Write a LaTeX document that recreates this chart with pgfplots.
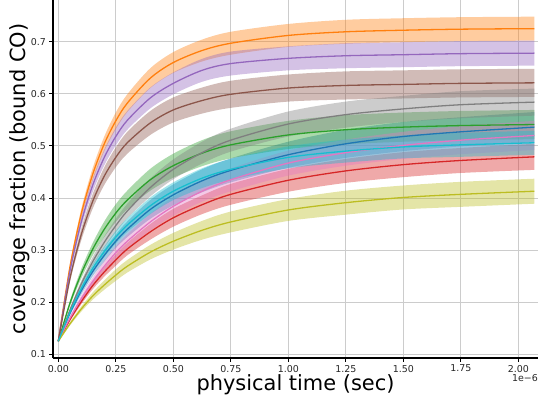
\documentclass[border=0pt]{standalone}
\usepackage{fontspec}
\setmainfont{DejaVu Sans}
\usepackage{pgfplots}
\usepackage{pgfplotstable}
\pgfplotsset{compat=1.18}
\usepgfplotslibrary{fillbetween}

\definecolor{tabblue}{HTML}{1F77B4}
\definecolor{taborange}{HTML}{FF7F0E}
\definecolor{tabgreen}{HTML}{2CA02C}
\definecolor{tabred}{HTML}{D62728}
\definecolor{tabpurple}{HTML}{9467BD}
\definecolor{tabbrown}{HTML}{8C564B}
\definecolor{tabpink}{HTML}{E377C2}
\definecolor{tabgray}{HTML}{7F7F7F}
\definecolor{tabolive}{HTML}{BCBD22}
\definecolor{tabcyan}{HTML}{17BECF}

\pgfplotstableread{
t v lo hi
0 0.125 0.125 0.125
0.05 0.178 0.174 0.182
0.1 0.222 0.215 0.229
0.15 0.259 0.250 0.268
0.2 0.290 0.278 0.302
0.25 0.317 0.304 0.330
0.3 0.340 0.325 0.355
0.4 0.378 0.360 0.396
0.5 0.406 0.386 0.426
0.625 0.433 0.411 0.455
0.75 0.453 0.430 0.476
1.0 0.483 0.458 0.508
1.25 0.504 0.477 0.531
1.5 0.518 0.490 0.546
1.75 0.527 0.499 0.555
2.07 0.536 0.507 0.565
}\tblue
\pgfplotstableread{
t v lo hi
0 0.125 0.125 0.125
0.05 0.266 0.261 0.271
0.1 0.370 0.361 0.379
0.15 0.446 0.434 0.458
0.2 0.504 0.490 0.518
0.25 0.548 0.532 0.564
0.3 0.582 0.565 0.599
0.4 0.630 0.611 0.649
0.5 0.660 0.640 0.680
0.625 0.683 0.662 0.704
0.75 0.697 0.675 0.719
1.0 0.712 0.690 0.734
1.25 0.719 0.696 0.742
1.5 0.722 0.699 0.745
1.75 0.724 0.701 0.747
2.07 0.725 0.702 0.748
}\torange
\pgfplotstableread{
t v lo hi
0 0.125 0.125 0.125
0.05 0.197 0.192 0.202
0.1 0.255 0.246 0.264
0.15 0.302 0.290 0.314
0.2 0.340 0.325 0.355
0.25 0.371 0.354 0.388
0.3 0.396 0.378 0.414
0.4 0.435 0.414 0.456
0.5 0.462 0.439 0.485
0.625 0.486 0.461 0.511
0.75 0.502 0.476 0.528
1.0 0.521 0.494 0.548
1.25 0.531 0.503 0.559
1.5 0.536 0.508 0.564
1.75 0.539 0.511 0.567
2.07 0.541 0.513 0.569
}\tgreen
\pgfplotstableread{
t v lo hi
0 0.125 0.125 0.125
0.05 0.166 0.163 0.169
0.1 0.201 0.196 0.206
0.15 0.232 0.225 0.240
0.2 0.258 0.249 0.267
0.25 0.281 0.270 0.292
0.3 0.302 0.290 0.314
0.4 0.335 0.320 0.350
0.5 0.362 0.345 0.379
0.625 0.387 0.369 0.405
0.75 0.407 0.387 0.427
1.0 0.434 0.412 0.456
1.25 0.452 0.429 0.475
1.5 0.464 0.440 0.488
1.75 0.472 0.448 0.496
2.07 0.479 0.454 0.504
}\tred
\pgfplotstableread{
t v lo hi
0 0.125 0.125 0.125
0.05 0.258 0.252 0.264
0.1 0.354 0.344 0.364
0.15 0.425 0.412 0.438
0.2 0.478 0.463 0.493
0.25 0.518 0.501 0.535
0.3 0.549 0.531 0.567
0.4 0.592 0.572 0.612
0.5 0.620 0.599 0.641
0.625 0.645 0.623 0.667
0.75 0.658 0.635 0.681
1.0 0.668 0.645 0.691
1.25 0.673 0.649 0.697
1.5 0.675 0.651 0.699
1.75 0.677 0.653 0.701
2.07 0.678 0.654 0.702
}\tpurple
\pgfplotstableread{
t v lo hi
0 0.125 0.125 0.125
0.05 0.244 0.238 0.250
0.1 0.330 0.319 0.341
0.15 0.394 0.380 0.408
0.2 0.442 0.425 0.459
0.25 0.478 0.459 0.497
0.3 0.506 0.485 0.527
0.4 0.544 0.521 0.567
0.5 0.569 0.545 0.593
0.625 0.587 0.562 0.612
0.75 0.599 0.573 0.625
1.0 0.611 0.585 0.637
1.25 0.616 0.589 0.643
1.5 0.618 0.591 0.645
1.75 0.620 0.593 0.647
2.07 0.621 0.594 0.648
}\tbrown
\pgfplotstableread{
t v lo hi
0 0.125 0.125 0.125
0.05 0.169 0.166 0.172
0.1 0.207 0.201 0.213
0.15 0.240 0.232 0.248
0.2 0.269 0.259 0.279
0.25 0.295 0.283 0.307
0.3 0.317 0.304 0.330
0.4 0.354 0.338 0.370
0.5 0.384 0.366 0.402
0.625 0.413 0.393 0.433
0.75 0.435 0.413 0.457
1.0 0.467 0.443 0.491
1.25 0.487 0.462 0.512
1.5 0.501 0.475 0.527
1.75 0.511 0.484 0.538
2.07 0.520 0.492 0.548
}\tpink
\pgfplotstableread{
t v lo hi
0 0.125 0.125 0.125
0.05 0.184 0.181 0.187
0.1 0.235 0.229 0.241
0.15 0.278 0.269 0.287
0.2 0.315 0.304 0.326
0.25 0.347 0.334 0.360
0.3 0.375 0.361 0.389
0.4 0.420 0.403 0.437
0.5 0.455 0.436 0.474
0.625 0.487 0.466 0.508
0.75 0.511 0.489 0.533
1.0 0.542 0.518 0.566
1.25 0.560 0.535 0.585
1.5 0.571 0.546 0.596
1.75 0.579 0.553 0.605
2.07 0.584 0.558 0.610
}\tgray
\pgfplotstableread{
t v lo hi
0 0.125 0.125 0.125
0.05 0.158 0.155 0.161
0.1 0.187 0.182 0.192
0.15 0.212 0.205 0.219
0.2 0.233 0.224 0.242
0.25 0.252 0.241 0.263
0.3 0.269 0.257 0.281
0.4 0.296 0.282 0.310
0.5 0.317 0.301 0.333
0.625 0.338 0.320 0.356
0.75 0.354 0.334 0.374
1.0 0.377 0.356 0.398
1.25 0.391 0.368 0.414
1.5 0.401 0.378 0.424
1.75 0.407 0.383 0.431
2.07 0.413 0.389 0.437
}\tolive
\pgfplotstableread{
t v lo hi
0 0.125 0.125 0.125
0.05 0.180 0.177 0.183
0.1 0.226 0.220 0.232
0.15 0.265 0.257 0.273
0.2 0.297 0.287 0.307
0.25 0.325 0.313 0.337
0.3 0.348 0.335 0.361
0.4 0.385 0.369 0.401
0.5 0.413 0.396 0.430
0.625 0.438 0.419 0.457
0.75 0.455 0.435 0.475
1.0 0.478 0.457 0.499
1.25 0.490 0.468 0.512
1.5 0.498 0.476 0.520
1.75 0.502 0.479 0.525
2.07 0.506 0.483 0.529
}\tcyan

\newcommand\band[2]{%
\addplot[name path=U#2, draw=none, smooth, forget plot] table[x=t,y=hi]{#1};
\addplot[name path=L#2, draw=none, smooth, forget plot] table[x=t,y=lo]{#1};
\addplot[fill=#2, fill opacity=0.4, draw=none, forget plot] fill between[of=U#2 and L#2];
\addplot[draw=#2, line width=1.3pt, smooth, forget plot] table[x=t,y=v]{#1};
}

\begin{document}
\begin{tikzpicture}
\begin{axis}[
  name=ax,
  scale only axis,
  width=485bp, height=358bp,
  xmin=-0.023, xmax=2.0857,
  ymin=0.0929, ymax=0.780,
  axis x line*=bottom, axis y line*=left,
  axis line style={black, line width=1.8bp},
  xtick={0,0.25,...,2.01},
  ytick={0.1,0.2,...,0.71},
  grid=major,
  major grid style={black!20, line width=0.8bp},
  tick align=outside,
  major tick length=3.5bp,
  tick style={black, line width=0.8bp},
  tick label style={font=\fontsize{9.5}{11}\selectfont, text=black!85},
  /pgf/number format/assume math mode=true,
  scaled x ticks=false, scaled y ticks=false,
  xticklabel style={/pgf/number format/.cd, fixed, fixed zerofill, precision=2},
  yticklabel style={/pgf/number format/.cd, fixed, fixed zerofill, precision=1},
  xlabel={physical time (sec)},
  ylabel={coverage fraction (bound CO)},
  xlabel style={font=\fontsize{21}{25}\selectfont, at={(axis description cs:0.5,-0.0754)}, anchor=center},
  ylabel style={font=\fontsize{21}{25}\selectfont, at={(axis description cs:-0.068,0.5)}, anchor=center},
]
\band{\tblue}{tabblue}
\band{\torange}{taborange}
\band{\tgreen}{tabgreen}
\band{\tred}{tabred}
\band{\tpurple}{tabpurple}
\band{\tbrown}{tabbrown}
\band{\tpink}{tabpink}
\band{\tgray}{tabgray}
\band{\tolive}{tabolive}
\band{\tcyan}{tabcyan}
\end{axis}
\node[anchor=east, font=\fontsize{9.5}{11}\selectfont, text=black!85, inner sep=0pt] at ([yshift=-20bp]ax.south east) {1e−6};
\pgfresetboundingbox
\path[use as bounding box] ([xshift=-53bp, yshift=-45bp]ax.south west) rectangle (ax.north east);
\end{tikzpicture}
\end{document}
